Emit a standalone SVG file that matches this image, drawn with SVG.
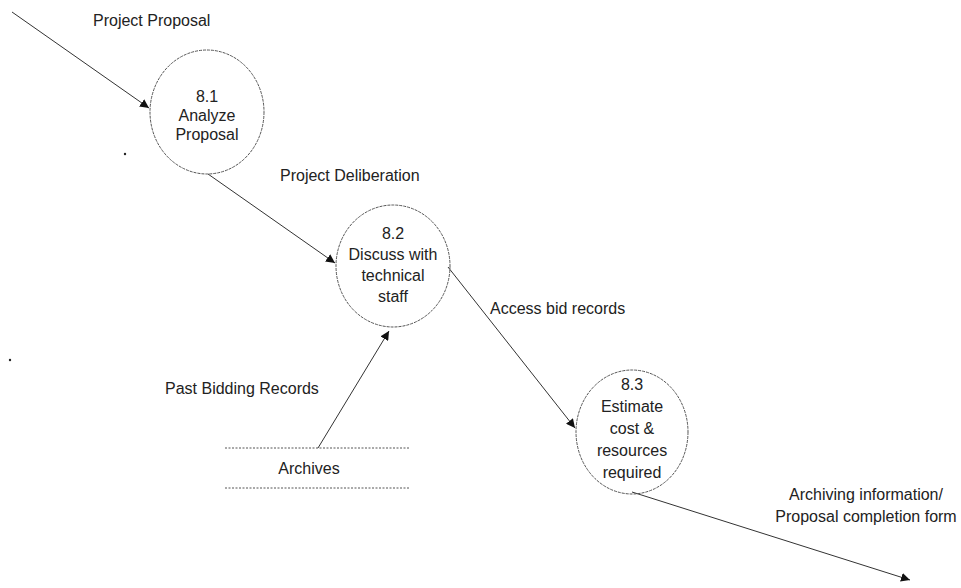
<svg xmlns="http://www.w3.org/2000/svg" width="961" height="588" viewBox="0 0 961 588">
  <style>
    text { font-family: "Liberation Sans", Arial, sans-serif; font-size: 16px; fill: #222; }
    .proc { fill: none; stroke: #555; stroke-width: 1; stroke-dasharray: 3 1; }
    .flow { fill: none; stroke: #333; stroke-width: 1; }
    .store { stroke: #555; stroke-width: 1; stroke-dasharray: 2 1.5; }
    .mid { text-anchor: middle; }
  </style>
  <defs>
    <marker id="arrow" viewBox="0 0 10 10" refX="10" refY="5" markerWidth="9" markerHeight="9" markerUnits="userSpaceOnUse" orient="auto">
      <path d="M0,0 L10,5 L0,10 z" fill="#111"/>
    </marker>
  </defs>

  <rect width="961" height="588" fill="#fff"/>

  <!-- data flows -->
  <g id="connectors">
    <line class="flow" x1="12" y1="12" x2="149" y2="108" marker-end="url(#arrow)"/>
    <line class="flow" x1="208" y1="174" x2="335" y2="263" marker-end="url(#arrow)"/>
    <line class="flow" x1="448" y1="267" x2="575" y2="428" marker-end="url(#arrow)"/>
    <line class="flow" x1="318" y1="448" x2="389" y2="331" marker-end="url(#arrow)"/>
    <line class="flow" x1="632" y1="492" x2="910" y2="580" marker-end="url(#arrow)"/>
  </g>

  <!-- flow labels -->
  <g id="labels">
    <text x="93" y="26">Project Proposal</text>
    <text x="280" y="181">Project Deliberation</text>
    <text x="490" y="314">Access bid records</text>
    <text x="165" y="394">Past Bidding Records</text>
    <text class="mid" x="866" y="500">Archiving information/</text>
    <text class="mid" x="866" y="522">Proposal completion form</text>
  </g>

  <!-- process 8.1 -->
  <g id="p81">
    <ellipse class="proc" cx="207" cy="112" rx="57" ry="62"/>
    <text class="mid" x="207" y="102">8.1</text>
    <text class="mid" x="207" y="121">Analyze</text>
    <text class="mid" x="207" y="140">Proposal</text>
  </g>

  <!-- process 8.2 -->
  <g id="p82">
    <ellipse class="proc" cx="393" cy="266" rx="57" ry="61"/>
    <text class="mid" x="393" y="239">8.2</text>
    <text class="mid" x="393" y="260">Discuss with</text>
    <text class="mid" x="393" y="281">technical</text>
    <text class="mid" x="393" y="302">staff</text>
  </g>

  <!-- process 8.3 -->
  <g id="p83">
    <ellipse class="proc" cx="632" cy="432" rx="56" ry="62"/>
    <text class="mid" x="632" y="390">8.3</text>
    <text class="mid" x="632" y="412">Estimate</text>
    <text class="mid" x="632" y="434">cost &amp;</text>
    <text class="mid" x="632" y="456">resources</text>
    <text class="mid" x="632" y="478">required</text>
  </g>

  <!-- data store -->
  <g id="archives">
    <line class="store" x1="225" y1="448" x2="410" y2="448"/>
    <line class="store" x1="225" y1="488" x2="410" y2="488"/>
    <text class="mid" x="309" y="474">Archives</text>
  </g>

  <!-- stray specks -->
  <g id="specks" fill="#222">
    <circle cx="125" cy="154" r="1.2"/>
    <circle cx="10" cy="360" r="1.2"/>
  </g>
</svg>
